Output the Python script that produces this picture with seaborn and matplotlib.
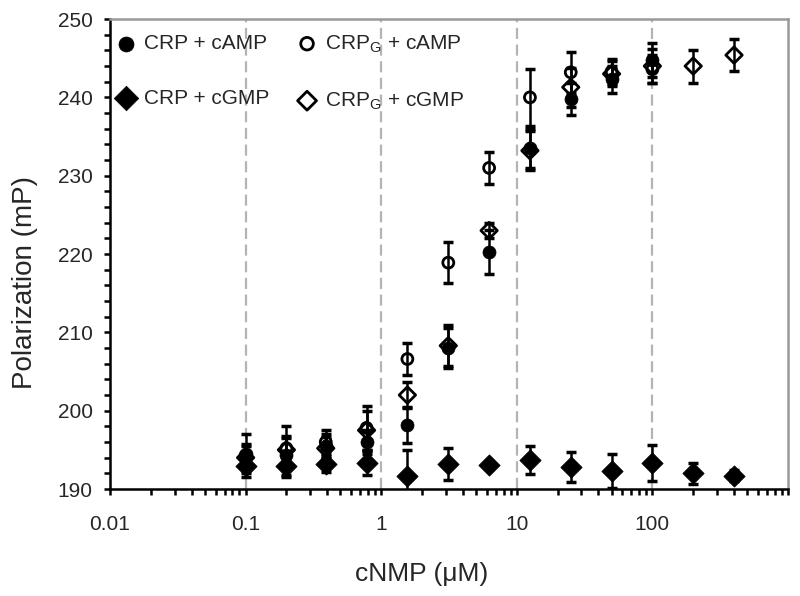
import numpy as np
import pandas as pd
import matplotlib
matplotlib.use("Agg")
import matplotlib.pyplot as plt
import seaborn as sns
from matplotlib.ticker import FixedLocator, FuncFormatter, LogLocator, MultipleLocator, NullFormatter

# cNMP concentration series (uM), two-fold dilutions
conc = [0.1, 0.2, 0.39, 0.78, 1.56, 3.125, 6.25, 12.5, 25, 50, 100, 200, 400]

# CRP + cAMP (measured up to 100 uM)
crp_camp = [194.5, 194.3, 195.5, 196.0, 198.2, 208.0, 220.3, 233.5, 239.8, 242.3, 244.8]
crp_camp_err = [2.5, 2.5, 1.5, 1.5, 2.3, 2.5, 2.8, 2.5, 2.0, 1.7, 2.2]

# CRP + cGMP
crp_cgmp = [193.0, 193.0, 193.2, 193.3, 191.6, 193.2, 193.1, 193.7, 192.8, 192.3, 193.3, 192.0, 191.7]
crp_cgmp_err = [1.5, 1.5, 1.0, 1.5, 3.4, 2.1, 0.5, 1.8, 1.9, 2.2, 2.3, 1.3, 0.7]

# CRP_G + cAMP (measured up to 100 uM)
crpg_camp = [194.3, 195.2, 196.0, 197.8, 206.6, 218.9, 231.0, 240.0, 243.2, 243.3, 243.6]
crpg_camp_err = [1.5, 2.8, 1.5, 2.8, 2.0, 2.6, 2.0, 3.6, 2.6, 1.6, 1.8]

# CRP_G + cGMP
crpg_cgmp = [194.0, 195.0, 195.2, 197.5, 202.0, 208.3, 223.0, 233.2, 241.3, 243.0, 244.0, 244.0, 245.4]
crpg_cgmp_err = [1.5, 1.5, 1.5, 2.5, 1.7, 2.6, 1.0, 2.5, 2.5, 1.6, 2.2, 2.1, 2.0]

labels = ["CRP + cAMP", "CRP + cGMP", "CRP$_\\mathregular{G}$ + cAMP", "CRP$_\\mathregular{G}$ + cGMP"]

sns.set_style("ticks")
plt.rcParams['font.family'] = ['Liberation Sans', 'DejaVu Sans']
plt.rcParams['mathtext.fontset'] = 'custom'
plt.rcParams['mathtext.rm'] = 'Liberation Sans'

series = [
    (labels[0], crp_camp, crp_camp_err, 'o', 'black', 88, 0.5),
    (labels[1], crp_cgmp, crp_cgmp_err, 'D', 'black', 118, 0.5),
    (labels[2], crpg_camp, crpg_camp_err, 'o', 'none', 62, 2.0),
    (labels[3], crpg_cgmp, crpg_cgmp_err, 'D', 'none', 70, 2.0),
]

fig = plt.figure(figsize=(8, 5.96), dpi=100)
ax = fig.add_axes([0.1375, 0.1795, 0.8475, 0.7885])
ax.set_xscale('log')

# dashed guide lines at decades
for d in [0.1, 1, 10, 100]:
    ax.axvline(d, color='#b4b4b4', lw=1.6, dashes=(5, 2.5), zorder=0)

for name, vals, errs, mk, fc, size, lw in series:
    df = pd.DataFrame({"conc": conc[:len(vals)], "mP": vals, "err": errs})
    ax.errorbar(df["conc"], df["mP"], yerr=df["err"], fmt='none', ecolor='black',
                elinewidth=1.8, capsize=3.6, capthick=2.5, zorder=2)
    sns.scatterplot(data=df, x="conc", y="mP", marker=mk, s=size, facecolor=fc,
                    edgecolor='black', linewidth=lw, label=name, ax=ax, zorder=3)

ax.set_xlim(0.01, 1000)
ax.set_ylim(190, 250)

ax.xaxis.set_major_locator(FixedLocator([0.01, 0.1, 1, 10, 100, 1000]))
ax.xaxis.set_major_formatter(FuncFormatter(lambda v, p: '' if v >= 1000 else '%g' % v))
ax.xaxis.set_minor_locator(LogLocator(base=10, subs=np.arange(2, 10)))
ax.xaxis.set_minor_formatter(NullFormatter())
ax.yaxis.set_major_locator(MultipleLocator(10))
ax.yaxis.set_minor_locator(MultipleLocator(2))

ax.tick_params(axis='both', which='both', direction='out', color='black', width=1.8, length=4.5)
ax.tick_params(axis='x', which='major', labelsize=15, pad=14)
ax.tick_params(axis='y', which='major', labelsize=15, pad=8)

for side in ['left', 'bottom']:
    ax.spines[side].set_color('black')
    ax.spines[side].set_linewidth(1.8)
for side in ['top', 'right']:
    ax.spines[side].set_color('#9a9a9a')
    ax.spines[side].set_linewidth(1.8)

ax.set_xlabel("cNMP (\u03bcM)", fontsize=19)
ax.set_ylabel("Polarization (mP)", fontsize=20)
ax.xaxis.set_label_coords(0.459, -0.155)
ax.yaxis.set_label_coords(-0.106, 0.44)

ax.legend(loc='upper left', bbox_to_anchor=(0.012, 0.97), ncol=2, frameon=False,
          fontsize=15, borderpad=0, borderaxespad=0, handlelength=0.8, markerscale=1.15,
          handletextpad=0.45, columnspacing=1.4, labelspacing=1.7)

fig.savefig("out.png", dpi=100)
